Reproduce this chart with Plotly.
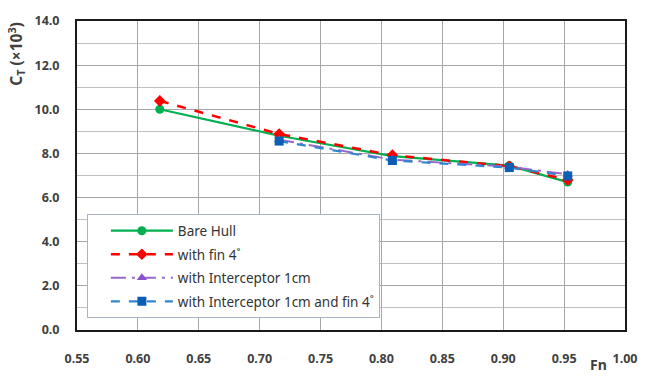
import plotly.graph_objects as go

fn_all = [0.618, 0.716, 0.809, 0.905, 0.953]
fn_int = [0.716, 0.809, 0.905, 0.953]

bare_hull = [10.00, 8.80, 7.88, 7.45, 6.70]
with_fin = [10.38, 8.88, 7.92, 7.42, 6.80]
with_int = [8.62, 7.72, 7.40, 7.05]
with_int_fin = [8.56, 7.68, 7.36, 6.98]

names = ["Bare Hull", "with fin 4˚", "with Interceptor 1cm", "with Interceptor 1cm and fin 4˚"]

x_ticks = [0.55, 0.60, 0.65, 0.70, 0.75, 0.80, 0.85, 0.90, 0.95, 1.00]
y_ticks = [0, 2, 4, 6, 8, 10, 12, 14]

FONT = "Noto Sans"
fig = go.Figure()
fig.add_trace(go.Scatter(x=fn_all, y=bare_hull, name=names[0], mode="lines+markers", legendgroup="a",
                         line=dict(color="#00b050", width=2.2),
                         marker=dict(symbol="circle", size=9, color="#00b050")))
fig.add_trace(go.Scatter(x=fn_all, y=with_fin, name=names[1], mode="lines+markers", legendgroup="b",
                         line=dict(color="#ff0000", width=2.5, dash="dash"),
                         marker=dict(symbol="diamond", size=9, color="#ff0000")))
fig.add_trace(go.Scatter(x=fn_int, y=with_int, name=names[2], mode="lines+markers", legendgroup="c",
                         line=dict(color="#9966cc", width=2, dash="longdashdot"),
                         marker=dict(symbol="triangle-up", size=9, color="#8a4fcc")))
fig.add_trace(go.Scatter(x=fn_int, y=with_int_fin, name=names[3], mode="lines+markers", legendgroup="d",
                         line=dict(color="#2f86cf", width=2.2, dash="dash"),
                         marker=dict(symbol="square", size=9, color="#0a5eb5")))

fig.update_layout(
    width=649, height=379,
    margin=dict(l=77, r=17, t=12, b=47),
    paper_bgcolor="white", plot_bgcolor="white",
    font=dict(family=FONT, color="#404040"),
    showlegend=True,
    legend=dict(x=0.018, y=0.374, xanchor="left", yanchor="top",
                bgcolor="white", bordercolor="#a8b4c4", borderwidth=1,
                font=dict(family=FONT, size=13.5, color="#333333"),
                itemwidth=62, indentation=18, tracegroupgap=3,
                groupclick="toggleitem"),
    xaxis=dict(range=[0.55, 1.00], tickvals=x_ticks, ticktext=[f"<b>{v:.2f}</b>" for v in x_ticks],
               showgrid=True, gridcolor="#a6a6a6", gridwidth=1,
               showline=True, linecolor="#1a1a1a", linewidth=2, mirror=True,
               tickfont=dict(family=FONT, size=12.5, color="#404040"),
               ticks="", ticklabelstandoff=16, zeroline=False),
    yaxis=dict(range=[0, 14], tickvals=y_ticks, ticktext=[f"<b>{v:.1f}</b>" for v in y_ticks],
               showgrid=True, gridcolor="#a6a6a6", gridwidth=1,
               minor=dict(dtick=1, showgrid=True, gridcolor="#c0c0c0", gridwidth=1),
               showline=True, linecolor="#1a1a1a", linewidth=2, mirror=True,
               tickfont=dict(family=FONT, size=12.5, color="#404040"),
               ticks="", ticklabelstandoff=13, zeroline=False),
    annotations=[
        dict(text="<b>C<sub>T</sub> (×10<sup>3</sup>)</b>", xref="paper", yref="paper",
             x=-0.112, y=1.003, xanchor="center", yanchor="top", textangle=-90,
             showarrow=False, font=dict(family=FONT, size=15.5, color="#404040")),
        dict(text="<b>Fn</b>", xref="paper", yref="paper", x=0.952, y=-0.112,
             xanchor="center", yanchor="middle", showarrow=False,
             font=dict(family=FONT, size=14, color="#404040")),
    ],
)

fig.write_html("out.html")
